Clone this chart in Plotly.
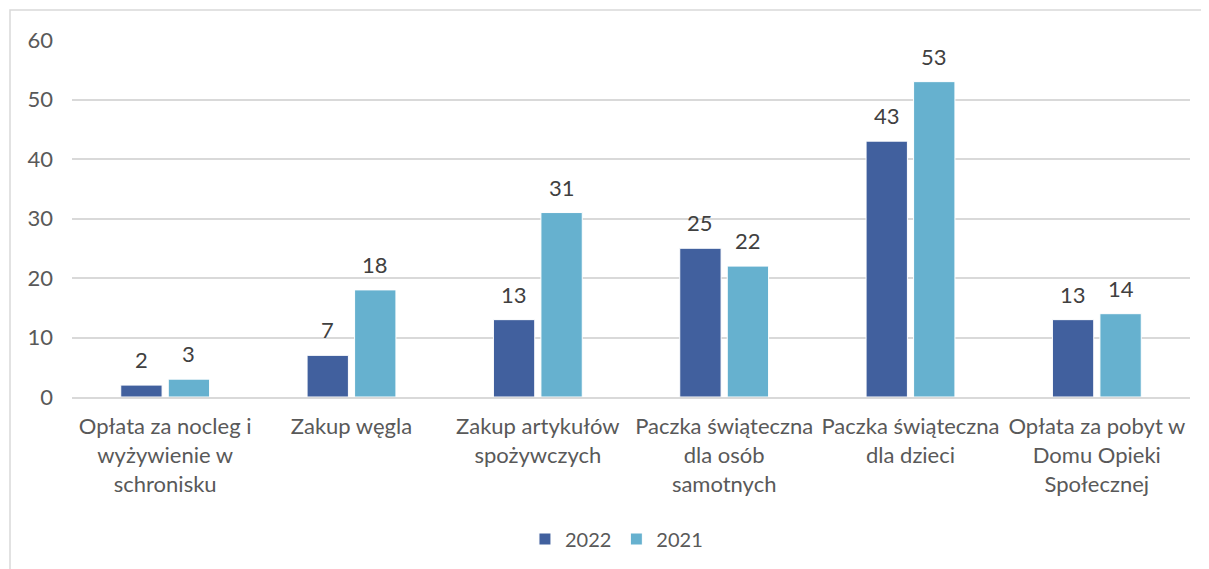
import plotly.graph_objects as go

categories = [
    "Opłata za nocleg i<br>wyżywienie w<br>schronisku",
    "Zakup węgla",
    "Zakup artykułów<br>spożywczych",
    "Paczka świąteczna<br>dla osób<br>samotnych",
    "Paczka świąteczna<br>dla dzieci",
    "Opłata za pobyt w<br>Domu Opieki<br>Społecznej",
]
series_names = ["2022", "2021"]
values_2022 = [2, 7, 13, 25, 43, 13]
values_2021 = [3, 18, 31, 22, 53, 14]
tick_vals = [0, 10, 20, 30, 40, 50, 60]

FONT = "Lato, 'Open Sans', sans-serif"
TXT = "#595959"
FS = 22
BARGAP = 0.49
BARGROUPGAP = 0.13

fig = go.Figure()
fig.add_trace(go.Bar(
    name=series_names[0], x=categories, y=values_2022,
    marker=dict(color="#41609E", line=dict(color="white", width=1)),
))
fig.add_trace(go.Bar(
    name=series_names[1], x=categories, y=values_2021,
    marker=dict(color="#66B1CF", line=dict(color="white", width=1)),
))

# data labels placed above bars via data coordinates
slot = (1 - BARGAP) / 2
annotations = []
for i, (a, b) in enumerate(zip(values_2022, values_2021)):
    for off, v in ((-slot / 2, a), (slot / 2, b)):
        annotations.append(dict(
            x=i + off, y=v, xref="x", yref="y", text=str(v), showarrow=False,
            yanchor="bottom", yshift=10, font=dict(size=FS, color="#404040", family=FONT),
        ))

OFF = 8  # body margin of the page
W, H = 1209 - OFF, 569 - OFF
L, R, T, B = 72 - OFF, 19, 40 - OFF, 172
pw, ph = W - L - R, H - T - B


def px_x(p):
    return (p - OFF - L) / pw


def px_y(p):
    return (H - B - (p - OFF)) / ph


fig.update_layout(
    width=W, height=H,
    margin=dict(l=L, r=R, t=T, b=B, autoexpand=False),
    paper_bgcolor="white", plot_bgcolor="white",
    barmode="group", bargap=BARGAP, bargroupgap=BARGROUPGAP,
    font=dict(family=FONT, size=FS, color=TXT),
    showlegend=True,
    legend=dict(orientation="h", x=0.487, xanchor="center", y=px_y(539), yanchor="middle",
                font=dict(size=20, color=TXT), itemwidth=30, traceorder="normal",
                tracegroupgap=0),
    xaxis=dict(showgrid=False, showline=True, linecolor="#d9d9d9", linewidth=2,
               ticks="", tickangle=0, tickfont=dict(size=FS, color=TXT),
               ticklabelstandoff=9),
    yaxis=dict(range=[0, 60], tickvals=tick_vals, showgrid=True, gridcolor="#d9d9d9",
               gridwidth=1.5, zeroline=False, showline=False, ticks="",
               tickfont=dict(size=FS, color=TXT), ticklabelstandoff=18),
    annotations=annotations,
    shapes=[dict(type="rect", xref="paper", yref="paper",
                 x0=px_x(10), x1=px_x(1240), y0=px_y(620), y1=px_y(10),
                 line=dict(color="#d9d9d9", width=1.5), fillcolor="rgba(0,0,0,0)",
                 layer="below")],
)

fig.write_html("out.html")
